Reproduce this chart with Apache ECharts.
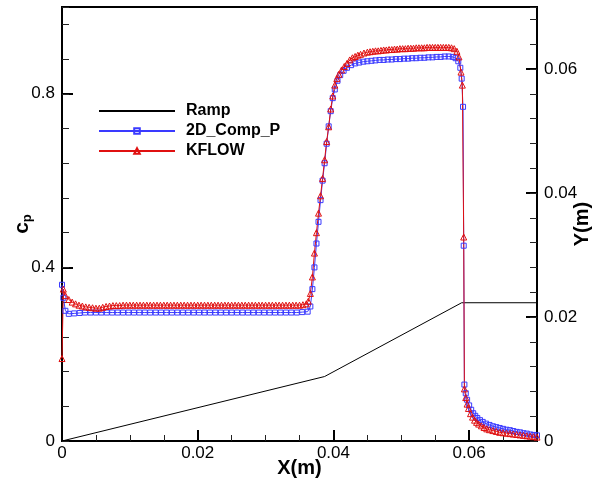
<!DOCTYPE html>
<html>
<head>
<meta charset="utf-8">
<script src="https://cdn.jsdelivr.net/npm/echarts@6/dist/echarts.min.js"></script>
<style>html,body{margin:0;padding:0;background:#fff;}#c{width:601px;height:484px;}</style>
</head>
<body>
<div id="c"></div>
<script>
// ---- data ----
const xMajorTicks = [0, 0.02, 0.04, 0.06];
const xMinorStep = 0.005;
const cpMajorTicks = [0, 0.4, 0.8];
const cpMinorStep = 0.08;
const yMajorTicks = [0, 0.02, 0.04, 0.06];
const yMinorStep = 0.004;

const rampPts = [[0, 0], [0.0387, 0.0104], [0.0589, 0.0223], [0.07, 0.0223]];

const compPts = [
  [0,0.360],[0.0002,0.330],[0.0005,0.300],[0.0010,0.293],[0.0018,0.294],[0.0026,0.295],
  [0.0034,0.296],[0.0042,0.296],[0.0050,0.296],[0.0058,0.296],[0.0066,0.296],[0.0074,0.296],
  [0.0082,0.296],[0.0090,0.296],[0.0098,0.296],[0.0106,0.296],[0.0114,0.296],[0.0122,0.296],
  [0.0130,0.296],[0.0138,0.296],[0.0146,0.296],[0.0154,0.296],[0.0162,0.296],[0.0170,0.296],
  [0.0178,0.296],[0.0186,0.296],[0.0194,0.296],[0.0202,0.296],[0.0210,0.296],[0.0218,0.296],
  [0.0226,0.296],[0.0234,0.296],[0.0242,0.296],[0.0250,0.296],[0.0258,0.296],[0.0266,0.296],
  [0.0274,0.296],[0.0282,0.296],[0.0290,0.296],[0.0298,0.296],[0.0306,0.296],[0.0314,0.296],
  [0.0322,0.296],[0.0330,0.296],[0.0338,0.296],[0.0346,0.296],[0.0354,0.297],[0.0362,0.298],
  [0.0366,0.310],[0.0369,0.350],[0.0372,0.400],[0.0375,0.455],[0.0378,0.505],[0.0381,0.555],
  [0.0384,0.600],[0.0387,0.640],[0.0390,0.685],[0.0393,0.725],[0.0396,0.760],[0.0399,0.790],
  [0.0402,0.810],[0.0406,0.830],[0.0410,0.843],[0.0415,0.853],[0.0420,0.860],[0.0426,0.866],
  [0.0432,0.870],[0.0438,0.872],[0.0444,0.874],[0.0450,0.875],[0.0456,0.876],[0.0462,0.877],
  [0.0468,0.878],[0.0474,0.878],[0.0480,0.879],[0.0486,0.879],[0.0492,0.880],[0.0498,0.880],
  [0.0504,0.881],[0.0510,0.881],[0.0516,0.882],[0.0522,0.882],[0.0528,0.883],[0.0534,0.883],
  [0.0540,0.884],[0.0546,0.884],[0.0552,0.885],[0.0558,0.885],[0.0564,0.886],[0.0570,0.886],
  [0.0576,0.885],[0.0580,0.882],[0.0584,0.875],[0.0587,0.860],[0.0589,0.835],[0.0591,0.770],
  [0.0592,0.450],[0.0593,0.130],[0.0595,0.110],[0.0597,0.095],[0.0600,0.082],[0.0603,0.072],
  [0.0606,0.064],[0.0609,0.058],[0.0612,0.053],[0.0616,0.048],[0.0620,0.044],[0.0625,0.040],
  [0.0630,0.037],[0.0635,0.034],[0.0640,0.032],[0.0645,0.030],[0.0650,0.028],[0.0655,0.026],
  [0.0660,0.025],[0.0665,0.023],[0.0670,0.021],[0.0675,0.020],[0.0680,0.018],[0.0685,0.017],
  [0.0690,0.015],[0.0695,0.014],[0.0700,0.013]
];

const kflowPts = [
  [0,0.190],[0.0002,0.350],[0.0005,0.335],[0.0010,0.326],[0.0015,0.320],[0.0020,0.316],
  [0.0025,0.313],[0.0030,0.311],[0.0035,0.309],[0.0040,0.308],[0.0045,0.307],[0.0050,0.306],
  [0.0055,0.306],[0.0060,0.308],[0.0065,0.310],[0.0070,0.311],[0.0075,0.312],[0.0080,0.312],
  [0.0085,0.312],[0.0090,0.313],[0.0095,0.313],[0.0100,0.313],[0.0105,0.313],[0.0110,0.313],
  [0.0115,0.313],[0.0120,0.313],[0.0125,0.313],[0.0130,0.313],[0.0135,0.313],[0.0140,0.313],
  [0.0145,0.313],[0.0150,0.313],[0.0155,0.313],[0.0160,0.313],[0.0165,0.313],[0.0170,0.313],
  [0.0175,0.313],[0.0180,0.313],[0.0185,0.313],[0.0190,0.313],[0.0195,0.313],[0.0200,0.313],
  [0.0205,0.313],[0.0210,0.313],[0.0215,0.313],[0.0220,0.313],[0.0225,0.313],[0.0230,0.313],
  [0.0235,0.313],[0.0240,0.313],[0.0245,0.313],[0.0250,0.313],[0.0255,0.313],[0.0260,0.313],
  [0.0265,0.313],[0.0270,0.313],[0.0275,0.313],[0.0280,0.313],[0.0285,0.313],[0.0290,0.313],
  [0.0295,0.313],[0.0300,0.313],[0.0305,0.313],[0.0310,0.313],[0.0315,0.313],[0.0320,0.313],
  [0.0325,0.313],[0.0330,0.313],[0.0335,0.313],[0.0340,0.313],[0.0345,0.313],[0.0350,0.313],
  [0.0355,0.314],[0.0360,0.316],[0.0363,0.322],[0.0366,0.340],[0.0369,0.378],[0.0372,0.433],
  [0.0375,0.480],[0.0378,0.525],[0.0381,0.565],[0.0384,0.605],[0.0387,0.648],[0.0390,0.690],
  [0.0393,0.724],[0.0396,0.765],[0.0399,0.795],[0.0402,0.820],[0.0405,0.835],[0.0408,0.845],
  [0.0412,0.855],[0.0416,0.863],[0.0420,0.870],[0.0424,0.878],[0.0428,0.883],[0.0432,0.886],
  [0.0436,0.889],[0.0440,0.891],[0.0445,0.894],[0.0450,0.896],[0.0454,0.897],[0.0458,0.898],
  [0.0462,0.899],[0.0466,0.899],[0.0470,0.900],[0.0474,0.901],[0.0478,0.901],[0.0482,0.902],
  [0.0486,0.902],[0.0490,0.903],[0.0494,0.903],[0.0498,0.904],[0.0502,0.904],[0.0506,0.904],
  [0.0510,0.905],[0.0514,0.905],[0.0518,0.905],[0.0522,0.906],[0.0526,0.906],[0.0530,0.906],
  [0.0534,0.906],[0.0538,0.907],[0.0542,0.907],[0.0546,0.907],[0.0550,0.907],[0.0554,0.907],
  [0.0558,0.907],[0.0562,0.907],[0.0566,0.907],[0.0570,0.907],[0.0574,0.906],[0.0578,0.904],
  [0.0582,0.898],[0.0585,0.885],[0.0588,0.850],[0.0590,0.820],[0.0592,0.470],[0.0593,0.120],
  [0.0595,0.100],[0.0597,0.085],[0.0599,0.075],[0.0602,0.063],[0.0605,0.055],[0.0608,0.048],
  [0.0611,0.043],[0.0614,0.039],[0.0618,0.035],[0.0622,0.031],[0.0626,0.028],[0.0630,0.026],
  [0.0635,0.024],[0.0640,0.022],[0.0645,0.020],[0.0650,0.019],[0.0655,0.018],[0.0660,0.017],
  [0.0665,0.016],[0.0670,0.015],[0.0675,0.014],[0.0680,0.013],[0.0685,0.012],[0.0690,0.011],
  [0.0695,0.010],[0.0700,0.009]
];

// ---- chart ----
const FONT = '"Liberation Sans", Arial, sans-serif';
const BLUE = '#3a3aff';
const RED = '#e01010';
const chart = echarts.init(document.getElementById('c'), null, {renderer: 'canvas'});

function majorAxis(extra) {
  return Object.assign({
    type: 'value',
    splitLine: {show: false},
    axisLine: {show: true, onZero: false, lineStyle: {color: '#000', width: 2}},
    nameMoveOverlap: false,
  }, extra);
}
function minorAxis(extra) {
  return Object.assign({
    type: 'value',
    splitLine: {show: false},
    axisLine: {show: true, onZero: false, lineStyle: {color: '#000', width: 2}},
    axisLabel: {show: false},
  }, extra);
}

chart.setOption({
  animation: false,
  backgroundColor: '#fff',
  grid: {left: 62, right: 64, top: 7, bottom: 43, show: true, borderColor: '#000', borderWidth: 2,
         containLabel: false, outerBoundsMode: 'none'},
  legend: {
    orient: 'vertical', left: 98, top: 103, padding: 0, itemWidth: 76, itemHeight: 7, itemGap: 4,
    textStyle: {color: '#000', fontFamily: FONT, fontSize: 16, fontWeight: 'bold', padding: [0, 0, 0, 6]},
    data: [
      {name: 'Ramp', itemStyle: {color: 'rgba(0,0,0,0)', borderWidth: 0, opacity: 0}},
      '2D_Comp_P', 'KFLOW'
    ]
  },
  xAxis: [
    minorAxis({min: 0, max: 0.07, interval: xMinorStep, position: 'bottom',
      axisTick: {show: true, inside: true, length: 6, lineStyle: {color: '#222', width: 1}}}),
    majorAxis({min: 0, max: 0.07, position: 'bottom',
      name: 'X(m)', nameLocation: 'middle', nameGap: 17,
      nameTextStyle: {color: '#000', fontFamily: FONT, fontSize: 20, fontWeight: 'bold'},
      axisTick: {inside: true, length: 11, lineStyle: {color: '#000', width: 2}, customValues: xMajorTicks},
      axisLabel: {color: '#000', fontFamily: FONT, fontSize: 17, margin: 4, customValues: xMajorTicks}})
  ],
  yAxis: [
    majorAxis({min: 0, max: 1, position: 'left',
      name: '{c|c}{p|p}', nameLocation: 'middle', nameGap: 28, nameRotate: 90,
      nameTextStyle: {rich: {
        c: {fontFamily: FONT, fontSize: 21, fontWeight: 'bold', color: '#000'},
        p: {fontFamily: FONT, fontSize: 13, fontWeight: 'bold', color: '#000', verticalAlign: 'bottom', padding: [10, 0, 0, 0]}
      }},
      axisTick: {inside: true, length: 11, lineStyle: {color: '#000', width: 2}, customValues: cpMajorTicks},
      axisLabel: {color: '#000', fontFamily: FONT, fontSize: 17, margin: 7, customValues: cpMajorTicks}}),
    minorAxis({min: 0, max: 1, interval: cpMinorStep, position: 'left',
      axisTick: {show: true, inside: true, length: 7, lineStyle: {color: '#222', width: 1}}}),
    majorAxis({min: 0, max: 0.07, position: 'right',
      name: 'Y(m)', nameLocation: 'middle', nameGap: 35, nameRotate: 90,
      nameTextStyle: {color: '#000', fontFamily: FONT, fontSize: 20, fontWeight: 'bold'},
      axisTick: {inside: true, length: 11, lineStyle: {color: '#000', width: 2}, customValues: yMajorTicks},
      axisLabel: {color: '#000', fontFamily: FONT, fontSize: 17, margin: 7, customValues: yMajorTicks}}),
    minorAxis({min: 0, max: 0.07, interval: yMinorStep, position: 'right',
      axisTick: {show: true, inside: true, length: 7, lineStyle: {color: '#222', width: 1}}})
  ],
  series: [
    {name: 'Ramp', type: 'line', xAxisIndex: 1, yAxisIndex: 2, data: rampPts,
     symbol: 'none', lineStyle: {color: '#000', width: 1}, itemStyle: {color: '#000'}},
    {name: '2D_Comp_P', type: 'line', xAxisIndex: 1, yAxisIndex: 0, data: compPts,
     symbol: 'rect', symbolSize: 5, showAllSymbol: true,
     lineStyle: {color: BLUE, width: 1},
     itemStyle: {color: 'rgba(255,255,255,0)', borderColor: BLUE, borderWidth: 1}},
    {name: 'KFLOW', type: 'line', xAxisIndex: 1, yAxisIndex: 0, data: kflowPts,
     symbol: 'triangle', symbolSize: 6, showAllSymbol: true,
     lineStyle: {color: RED, width: 1},
     itemStyle: {color: 'rgba(255,255,255,0)', borderColor: RED, borderWidth: 1}}
  ]
});
</script>
</body>
</html>
